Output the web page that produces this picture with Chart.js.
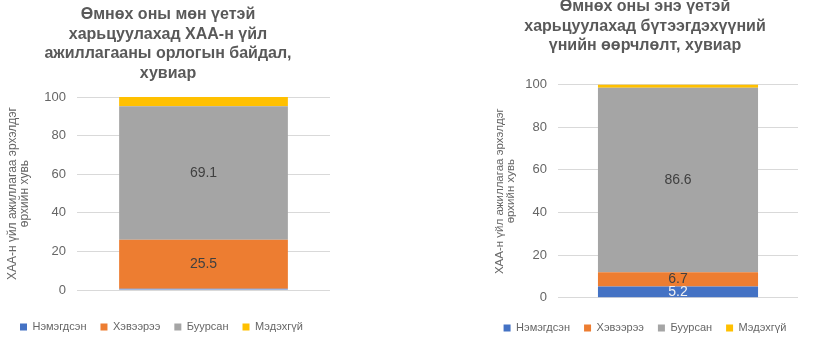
<!DOCTYPE html>
<html>
<head>
<meta charset="utf-8">
<script src="https://cdn.jsdelivr.net/npm/chart.js@4"></script>
<style>
  html, body { margin: 0; padding: 0; background: #ffffff; }
  body { width: 825px; height: 347px; position: relative; overflow: hidden; }
  .panel { position: absolute; }
  #incomeWrap { left: 0; top: 0; width: 412px; height: 347px; }
  #priceWrap { left: 412px; top: -4px; width: 413px; height: 351px; }
</style>
</head>
<body>
<div class="panel" id="incomeWrap"><canvas id="incomeChart" width="412" height="347"></canvas></div>
<div class="panel" id="priceWrap"><canvas id="priceChart" width="413" height="351"></canvas></div>
<script>
// series (legend order)
const seriesNames = ['Нэмэгдсэн', 'Хэвээрээ', 'Буурсан', 'Мэдэхгүй'];

// left chart: income compared with same period of previous year, %
const incomeTitle = ['Өмнөх оны мөн үетэй', 'харьцуулахад ХАА-н үйл', 'ажиллагааны орлогын байдал,', 'хувиар'];
const incomeValues = [0.6, 25.5, 69.1, 4.8];

// right chart: product price change, %
const priceTitle = ['Өмнөх оны энэ үетэй', 'харьцуулахад бүтээгдэхүүний', 'үнийн өөрчлөлт, хувиар'];
const priceValues = [5.2, 6.7, 86.6, 1.5];

const yAxisTitle = ['ХАА-н үйл ажиллагаа эрхэлдэг', 'өрхийн хувь'];
const categories = [''];

const SERIES_COLORS = ['#4472c4', '#ed7d31', '#a5a5a5', '#ffc000'];
const LABEL_COLORS = ['#f2f2f2', '#404040', '#404040', '#404040'];
const LABEL_MIN = 5; // smaller segments are not labelled
const FONT = '"Liberation Sans", Arial, sans-serif';
const TITLE_COLOR = '#595959';
const TEXT = '#666666';

// draws the value in the middle of each segment
const valueLabels = {
  id: 'valueLabels',
  afterDatasetsDraw(chart) {
    const ctx = chart.ctx;
    ctx.save();
    ctx.font = '14px ' + FONT;
    ctx.textAlign = 'center';
    ctx.textBaseline = 'middle';
    chart.data.datasets.forEach((ds, i) => {
      chart.getDatasetMeta(i).data.forEach((bar, j) => {
        const v = ds.data[j];
        if (v < LABEL_MIN) return;
        ctx.fillStyle = LABEL_COLORS[i];
        ctx.fillText(v.toFixed(1), bar.x, (bar.y + bar.base) / 2);
      });
    });
    ctx.restore();
  }
};

const makeChart = (canvasId, title, values, lay) => {
  const datasets = seriesNames.map((name, i) => ({
    label: name,
    data: [values[i]],
    backgroundColor: SERIES_COLORS[i],
    borderWidth: 0,
    barPercentage: 0.667,
    categoryPercentage: 1
  }));

  const scales = {
    x: {
      stacked: true,
      ticks: { display: false },
      grid: { display: false },
      border: { display: false },
      afterFit: (scale) => { scale.height = lay.xHeight; }
    },
    y: {
      stacked: true,
      min: 0,
      max: 100,
      ticks: {
        stepSize: 20,
        padding: 11,
        color: TEXT,
        font: { family: FONT, size: 13 }
      },
      grid: { color: '#d9d9d9', drawTicks: false },
      border: { display: false },
      title: {
        display: true,
        text: yAxisTitle,
        color: TEXT,
        padding: { top: lay.yTitleShift, bottom: 0 },
        font: { family: FONT, size: lay.yTitleSize, lineHeight: lay.yTitleLine }
      },
      afterFit: (scale) => { scale.width = lay.yWidth; }
    }
  };

  // empty spacer on the right so the legend gets the full width
  if (lay.rightGap) {
    scales.spacer = {
      type: 'linear',
      position: 'right',
      ticks: { display: false },
      grid: { display: false },
      border: { display: false },
      afterFit: (scale) => { scale.width = lay.rightGap; }
    };
  }

  return new Chart(document.getElementById(canvasId), {
    type: 'bar',
    data: { labels: categories, datasets },
    plugins: [valueLabels],
    options: {
      responsive: false,
      animation: false,
      layout: { padding: lay.padding },
      plugins: {
        title: {
          display: true,
          text: title,
          color: TITLE_COLOR,
          font: { family: FONT, size: 16, weight: 'bold', lineHeight: 1.22 },
          padding: lay.titlePadding
        },
        legend: {
          position: 'bottom',
          align: lay.legendAlign,
          labels: {
            boxWidth: 7,
            boxHeight: 7,
            padding: 14,
            color: TEXT,
            font: { family: FONT, size: 11 }
          }
        },
        tooltip: { enabled: false }
      },
      scales
    }
  });
};

makeChart('incomeChart', incomeTitle, incomeValues, {
  padding: { left: 6, right: 82, top: 5, bottom: 4.5 },
  titlePadding: { top: 0, bottom: 14 },
  legendAlign: 'start',
  xHeight: 17.5,
  yWidth: 71,
  yTitleSize: 12,
  yTitleLine: 1,
  yTitleShift: 1,
  rightGap: 0
});

makeChart('priceChart', priceTitle, priceValues, {
  padding: { left: 53, right: 0, top: 1, bottom: 3.5 },
  titlePadding: { top: 0, bottom: 29 },
  legendAlign: 'center',
  xHeight: 10.8,
  yWidth: 93,
  yTitleSize: 11.5,
  yTitleLine: 0.96,
  yTitleShift: 29.5,
  rightGap: 27
});
</script>
</body>
</html>
